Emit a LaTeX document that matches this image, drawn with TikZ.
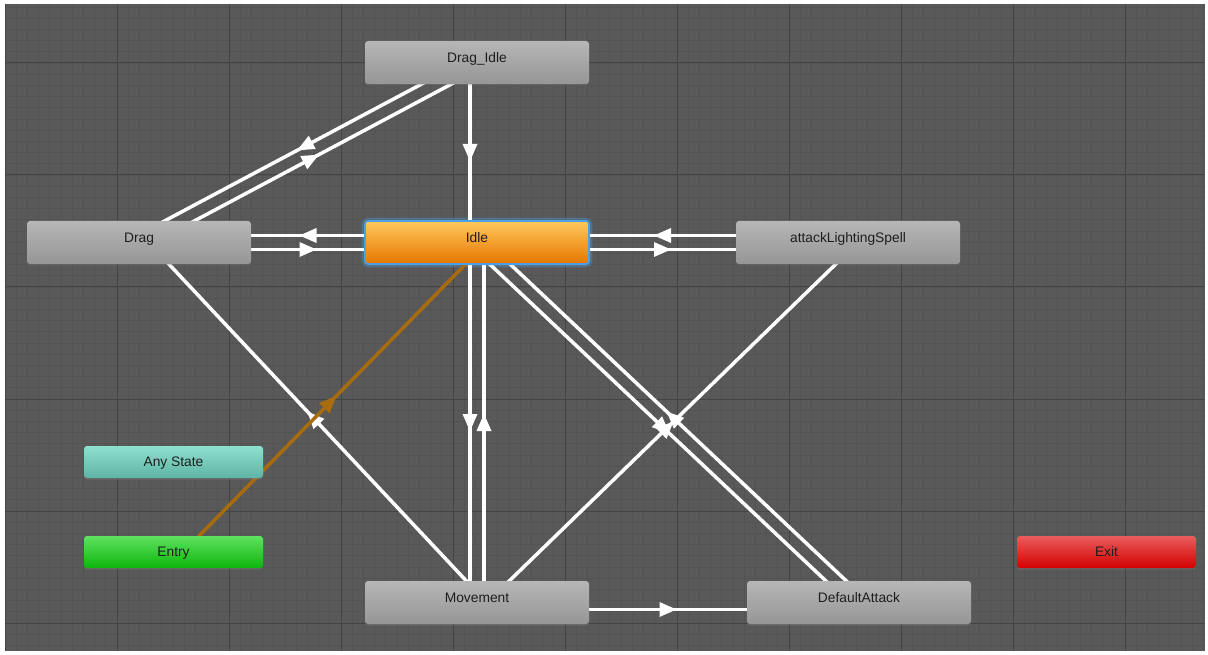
\documentclass[tikz,border=0pt]{standalone}
\usepackage{fontspec}
\setmainfont{Liberation Sans}
\usetikzlibrary{calc,shadows,decorations.markings}
\pgfdeclarelayer{bg}
\pgfdeclarelayer{edges}
\pgfsetlayers{bg,edges,main}
\definecolor{canvas}{RGB}{89,89,89}
\definecolor{minorgrid}{RGB}{83,83,83}
\definecolor{majorgrid}{RGB}{68,68,68}
\definecolor{graytop}{RGB}{182,182,182}
\definecolor{graybot}{RGB}{150,150,150}
\definecolor{idletop}{RGB}{255,200,92}
\definecolor{idlebot}{RGB}{230,118,0}
\definecolor{idleglow}{RGB}{76,160,230}
\definecolor{anytop}{RGB}{142,224,206}
\definecolor{anybot}{RGB}{94,180,165}
\definecolor{entrytop}{RGB}{96,226,96}
\definecolor{entrybot}{RGB}{12,182,12}
\definecolor{exittop}{RGB}{234,92,92}
\definecolor{exitbot}{RGB}{212,0,0}
\definecolor{txt}{RGB}{30,30,30}
\definecolor{entrycol}{RGB}{168,108,14}
\tikzset{
  state/.style={rounded corners=3pt, minimum width=224pt, minimum height=43pt,
    inner sep=0pt, text height=10pt, text depth=10pt,
    font=\fontsize{13.8}{16}\selectfont, text=txt,
    drop shadow={opacity=0.35, shadow xshift=0pt, shadow yshift=-1.5pt}},
  graystate/.style={state, top color=graytop, bottom color=graybot},
  smallstate/.style={state, minimum width=179pt, minimum height=32pt,
    text height=11pt, text depth=2pt},
  trline/.style={line width=3.5pt, draw=#1, postaction={decorate,
    decoration={markings, mark=at position 0.5 with
      {\fill[#1] (8.5,0) -- (-8.5,7.5) -- (-8.5,-7.5) -- cycle;}}}},
  trline/.default=white,
  minorline/.style={draw=minorgrid, line width=0.8pt},
  majorline/.style={draw=majorgrid, line width=1pt}
}
\newcommand{\statetrans}[3][white]{%
  \draw[trline=#1] ($(#2.center)!7pt!-90:(#3.center)$) -- ($(#3.center)!7pt!90:(#2.center)$);}
\begin{document}
\begin{tikzpicture}[x=1pt,y=-1pt]
\useasboundingbox (0,0) rectangle (1208,655);
\begin{pgfonlayer}{bg}
  \fill[white] (0,0) rectangle (1208,655);
  \fill[canvas] (5,4) rectangle (1205,651);
  \foreach \i in {0,...,107} { \draw[minorline] ({5+11.2*\i},4) -- ({5+11.2*\i},651); }
  \foreach \j in {0,...,57} { \draw[minorline] (5,{7+11.2*\j}) -- (1205,{7+11.2*\j}); }
  \foreach \i in {0,...,10} { \draw[majorline] ({5+112*\i},4) -- ({5+112*\i},651); }
  \foreach \j in {0,...,5} { \draw[majorline] (5,{63+112*\j}) -- (1205,{63+112*\j}); }
\end{pgfonlayer}

\node[graystate] (dragidle) at (477,62.5) {Drag\_Idle};
\node[graystate] (drag) at (139,242.5) {Drag};
\node[state, top color=idletop, bottom color=idlebot, draw=idleglow, line width=1.6pt] (idle) at (477,242.5) {Idle};
\node[graystate] (spell) at (848,242.5) {attackLightingSpell};
\node[smallstate, top color=anytop, bottom color=anybot] (any) at (173.5,462) {Any State};
\node[smallstate, top color=entrytop, bottom color=entrybot] (entry) at (173.5,552) {Entry};
\node[graystate] (move) at (477,602.5) {Movement};
\node[graystate] (defatk) at (859,602.5) {DefaultAttack};
\node[smallstate, top color=exittop, bottom color=exitbot] (exit) at (1106.5,552) {Exit};

\begin{pgfonlayer}{edges}
  \draw[idleglow, opacity=0.35, line width=5pt, rounded corners=4pt]
    (idle.north west) rectangle (idle.south east);
  \statetrans{dragidle}{idle}
  \statetrans{drag}{dragidle}
  \statetrans{dragidle}{drag}
  \statetrans{idle}{drag}
  \statetrans{drag}{idle}
  \statetrans{spell}{idle}
  \statetrans{idle}{spell}
  \statetrans{idle}{move}
  \statetrans{move}{idle}
  \statetrans{move}{drag}
  \statetrans{move}{spell}
  \statetrans{idle}{defatk}
  \statetrans{defatk}{idle}
  \statetrans{move}{defatk}
  \statetrans[entrycol]{entry}{idle}
\end{pgfonlayer}
\end{tikzpicture}
\end{document}
